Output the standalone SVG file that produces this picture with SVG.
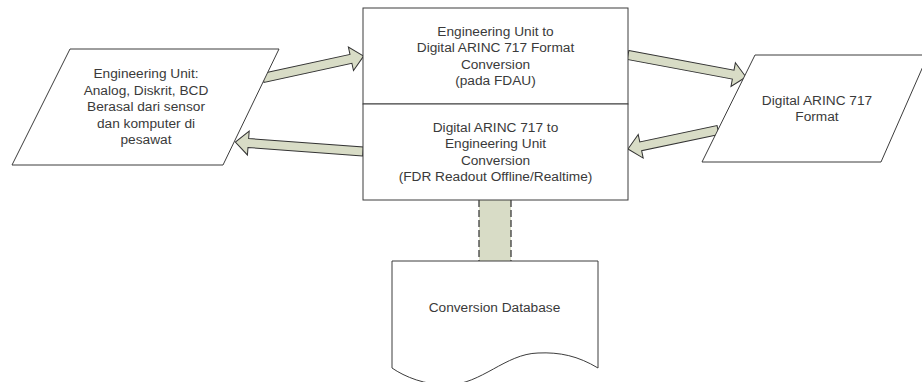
<svg xmlns="http://www.w3.org/2000/svg" width="922" height="382" viewBox="0 0 922 382">
<style>
.shape{fill:#ffffff;stroke:#3c3c3c;stroke-width:1}
.arrow{fill:#d8dcc6;stroke:#333333;stroke-width:1;stroke-linejoin:miter}
.dash{fill:none;stroke:#3c3c3c;stroke-width:1.3;stroke-dasharray:7,3}
text{font-family:"Liberation Sans",Arial,sans-serif;font-size:13.7px;fill:#3a3a3a;text-anchor:middle}
</style>
<rect width="922" height="382" fill="#ffffff"/>
<g id="connectors">
  <g id="db-link">
    <rect x="479" y="200" width="32" height="61" fill="#d8dcc6" stroke="none"/>
    <line class="dash" x1="479" y1="200" x2="479" y2="261"/>
    <line class="dash" x1="511" y1="200" x2="511" y2="261"/>
  </g>
  <polygon id="arrow-eu-to-conv" class="arrow" transform="translate(263,78) rotate(-12.29)" points="0,-4.5 90,-4.5 90,-12 103,0 90,12 90,4.5 0,4.5"/>
  <polygon id="arrow-conv-to-eu" class="arrow" transform="translate(363,151.5) rotate(184.24)" points="0,-4.5 115,-4.5 115,-12 128,0 115,12 115,4.5 0,4.5"/>
  <polygon id="arrow-conv-to-arinc" class="arrow" transform="translate(628,55) rotate(10.56)" points="0,-4.5 107,-4.5 107,-12 120,0 107,12 107,4.5 0,4.5"/>
  <polygon id="arrow-arinc-to-conv" class="arrow" transform="translate(718,130) rotate(168.08)" points="0,-4.5 79,-4.5 79,-12 92,0 79,12 79,4.5 0,4.5"/>
</g>
<g id="engineering-unit">
  <polygon class="shape" points="70,49 279,49 223,165 12,165"/>
  <text x="146" y="78">Engineering Unit:</text>
  <text x="146" y="94.5">Analog, Diskrit, BCD</text>
  <text x="146" y="111">Berasal dari sensor</text>
  <text x="146" y="127.5">dan komputer di</text>
  <text x="146" y="144">pesawat</text>
</g>
<g id="conversion-eu-to-arinc">
  <rect class="shape" x="363" y="8" width="265" height="96"/>
  <text x="495.5" y="36">Engineering Unit to</text>
  <text x="495.5" y="52.3">Digital ARINC 717 Format</text>
  <text x="495.5" y="68.6">Conversion</text>
  <text x="495.5" y="85">(pada FDAU)</text>
</g>
<g id="conversion-arinc-to-eu">
  <rect class="shape" x="363" y="104" width="265" height="96"/>
  <text x="495.5" y="132">Digital ARINC 717 to</text>
  <text x="495.5" y="148.3">Engineering Unit</text>
  <text x="495.5" y="164.6">Conversion</text>
  <text x="495.5" y="181">(FDR Readout Offline/Realtime)</text>
</g>
<g id="arinc-format">
  <polygon class="shape" points="755,55 928,55 881,162 702,162"/>
  <text x="817" y="105">Digital ARINC 717</text>
  <text x="817" y="121">Format</text>
</g>
<g id="conversion-database">
  <path class="shape" d="M392,261 H598 V368 C578,356 560,352 538,353 C505,354 482,384 448,385 C425,385 405,377 392,368 Z"/>
  <text x="494.5" y="311.5">Conversion Database</text>
</g>
</svg>
